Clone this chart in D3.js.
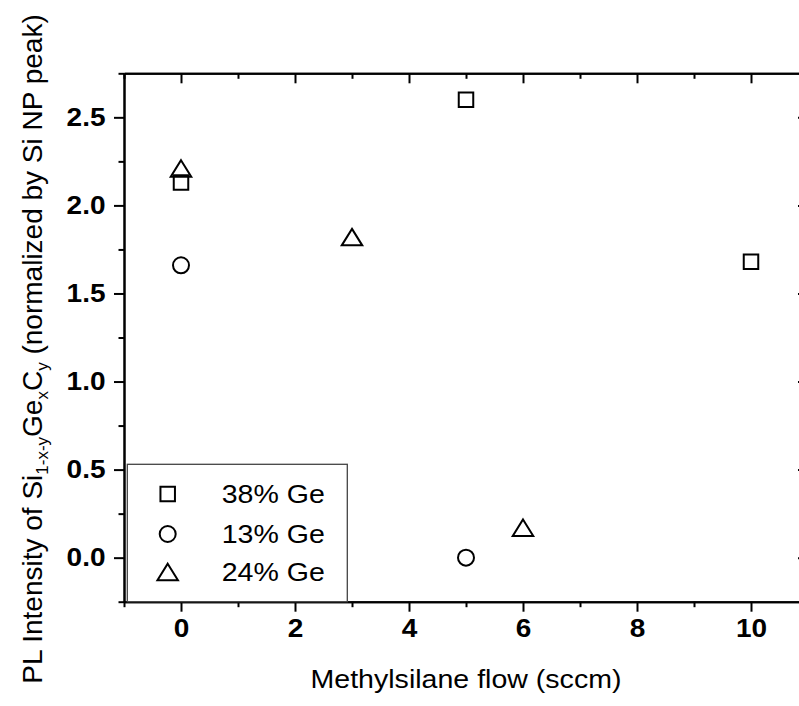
<!DOCTYPE html>
<html>
<head>
<meta charset="utf-8">
<script src="https://cdn.jsdelivr.net/npm/d3@7"></script>
<style>
  body { margin: 0; background: #fff; }
  text { font-family: Arial, "Liberation Sans", sans-serif; }
</style>
</head>
<body>
<div class="vis"></div>
<script>
// data
const flow38 = [0, 5, 10];
const pl38 = [2.13, 2.6, 1.68];
const flow13 = [0, 5];
const pl13 = [1.66, 0.0];
const flow24 = [0, 3, 6];
const pl24 = [2.21, 1.82, 0.17];
const seriesNames = ["38% Ge", "13% Ge", "24% Ge"];
const xTicks = [0, 2, 4, 6, 8, 10];
const yTicks = [0, 0.5, 1.0, 1.5, 2.0, 2.5];

const W = 799, H = 706;
const stretch = 1.12; // text looks a bit wide in the original

const svg = d3.select(".vis").append("svg")
    .attr("width", W)
    .attr("height", H);

const x = d3.scaleLinear().domain([-1, 11]).range([124, 808]);
const y = d3.scaleLinear().domain([-0.25, 2.75]).range([601.7, 73.3]);

// minor ticks first
const xMinor = d3.range(-1, 12, 1).filter(v => xTicks.indexOf(v) < 0);
const yMinor = d3.range(-0.25, 2.76, 0.25).filter(v => !yTicks.some(t => Math.abs(t - v) < 1e-6));

function styleAxis(g) {
    g.select(".domain").attr("stroke", "#000").attr("stroke-width", 2);
    g.selectAll(".tick line").attr("stroke", "#000").attr("stroke-width", 2);
}

// bottom
svg.append("g").attr("transform", "translate(0," + y.range()[0] + ")")
    .call(d3.axisBottom(x).tickValues(xMinor).tickSize(5.5).tickFormat("").tickSizeOuter(0))
    .call(styleAxis);
const gx = svg.append("g").attr("transform", "translate(0," + y.range()[0] + ")")
    .call(d3.axisBottom(x).tickValues(xTicks).tickSize(10).tickPadding(8).tickSizeOuter(0))
    .call(styleAxis);
gx.selectAll(".tick text")
    .attr("fill", "#000")
    .style("font-size", "25px")
    .style("font-weight", "bold")
    .attr("transform", "scale(" + stretch + ",1)");

// left
svg.append("g").attr("transform", "translate(" + x.range()[0] + ",0)")
    .call(d3.axisLeft(y).tickValues(yMinor).tickSize(5.5).tickFormat("").tickSizeOuter(0))
    .call(styleAxis);
const gy = svg.append("g").attr("transform", "translate(" + x.range()[0] + ",0)")
    .call(d3.axisLeft(y).tickValues(yTicks).tickSize(10).tickPadding(8).tickFormat(d3.format(".1f")).tickSizeOuter(0))
    .call(styleAxis);
gy.selectAll(".tick text")
    .attr("fill", "#000")
    .style("font-size", "25px")
    .style("font-weight", "bold")
    .attr("x", -18.5 / stretch)
    .attr("transform", "scale(" + stretch + ",1)");

// top (ticks pointing down into the plot)
svg.append("g").attr("transform", "translate(0," + y.range()[1] + ")")
    .call(d3.axisBottom(x).tickValues(xMinor).tickSize(5.5).tickFormat("").tickSizeOuter(0))
    .call(styleAxis);
svg.append("g").attr("transform", "translate(0," + y.range()[1] + ")")
    .call(d3.axisBottom(x).tickValues(xTicks).tickSize(10).tickFormat("").tickSizeOuter(0))
    .call(styleAxis);

// right (ticks pointing left into the plot)
svg.append("g").attr("transform", "translate(" + x.range()[1] + ",0)")
    .call(d3.axisLeft(y).tickValues(yMinor).tickSize(5.5).tickFormat("").tickSizeOuter(0))
    .call(styleAxis);
svg.append("g").attr("transform", "translate(" + x.range()[1] + ",0)")
    .call(d3.axisLeft(y).tickValues(yTicks).tickSize(10).tickFormat("").tickSizeOuter(0))
    .call(styleAxis);

// axis titles
svg.append("text")
    .attr("x", 0).attr("y", 0)
    .attr("transform", "translate(" + (x.range()[0] + x.range()[1]) / 2 + ",688) scale(" + stretch + ",1)")
    .attr("text-anchor", "middle")
    .style("font-size", "25.5px")
    .text("Methylsilane flow (sccm)");

const yTitle = svg.append("text")
    .attr("transform", "translate(42,349) rotate(-90)")
    .attr("text-anchor", "middle")
    .style("font-size", "28px");
yTitle.append("tspan").text("PL Intensity of Si");
yTitle.append("tspan").attr("dy", 6).style("font-size", "17px").text("1-x-y");
yTitle.append("tspan").attr("dy", -6).text("Ge");
yTitle.append("tspan").attr("dy", 6).style("font-size", "17px").text("x");
yTitle.append("tspan").attr("dy", -6).text("C");
yTitle.append("tspan").attr("dy", 6).style("font-size", "17px").text("y");
yTitle.append("tspan").attr("dy", -6).text(" (normalized by Si NP peak)");

// marker shapes
function squarePath(s) {
    const h = s / 2;
    return "M" + (-h) + "," + (-h) + "H" + h + "V" + h + "H" + (-h) + "Z";
}
function trianglePath(w, hgt) {
    return "M0," + (-hgt / 2) + "L" + (w / 2) + "," + (hgt / 2) + "L" + (-w / 2) + "," + (hgt / 2) + "Z";
}
const shapes = [
    () => squarePath(14.5),
    () => d3.symbol().type(d3.symbolCircle).size(Math.PI * 8 * 8)(),
    () => trianglePath(20.5, 16.5)
];

const series = [
    { name: seriesNames[0], xs: flow38, ys: pl38, shape: shapes[0] },
    { name: seriesNames[1], xs: flow13, ys: pl13, shape: shapes[1] },
    { name: seriesNames[2], xs: flow24, ys: pl24, shape: shapes[2] }
];

series.forEach(function(s) {
    svg.append("g")
        .selectAll("path")
        .data(s.xs.map((v, i) => [v, s.ys[i]]))
        .enter()
        .append("path")
        .attr("d", s.shape())
        .attr("transform", d => "translate(" + x(d[0]) + "," + y(d[1]) + ")")
        .attr("fill", "none")
        .attr("stroke", "#000")
        .attr("stroke-width", 2);
});

// legend
const leg = svg.append("g");
leg.append("rect")
    .attr("x", 127.3).attr("y", 464.3)
    .attr("width", 220).attr("height", 137.4)
    .attr("fill", "#fff")
    .attr("stroke", "#444")
    .attr("stroke-width", 1.3);
const rowY = [494, 534, 572];
series.forEach(function(s, i) {
    leg.append("path")
        .attr("d", s.shape())
        .attr("transform", "translate(167.7," + rowY[i] + ")")
        .attr("fill", "none")
        .attr("stroke", "#000")
        .attr("stroke-width", 2);
    leg.append("text")
        .attr("transform", "translate(221.7," + (rowY[i] + 9) + ") scale(" + stretch + ",1)")
        .style("font-size", "25.5px")
        .text(s.name);
});
</script>
</body>
</html>
